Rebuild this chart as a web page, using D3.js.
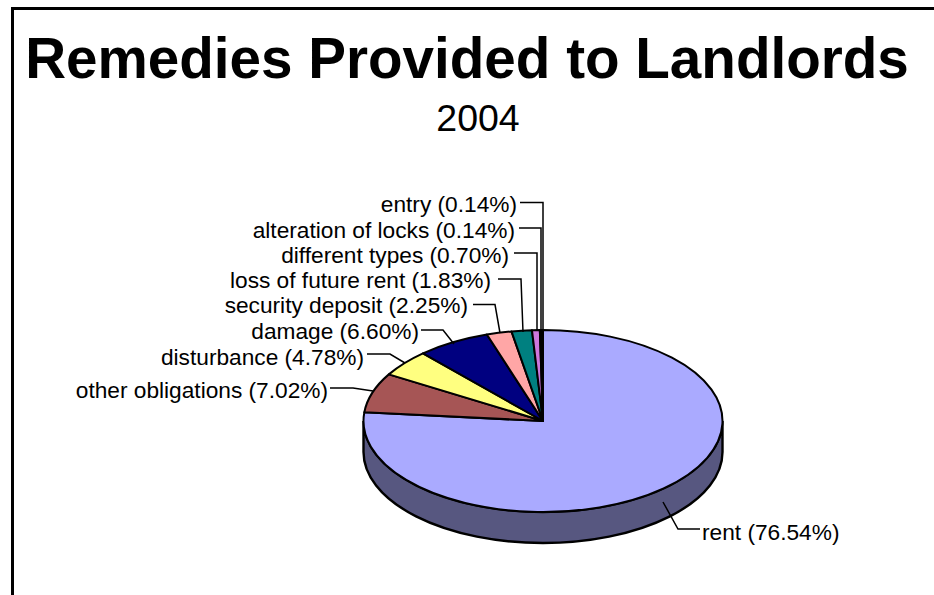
<!DOCTYPE html>
<html>
<head>
<meta charset="utf-8">
<script src="https://cdn.jsdelivr.net/npm/d3@7/dist/d3.min.js"></script>
<style>
html,body{margin:0;padding:0;background:#fff}
svg{display:block}
text{font-family:"Liberation Sans",Arial,sans-serif;fill:#000}
.slice,.wall{vector-effect:non-scaling-stroke}
</style>
</head>
<body>
<script>
// Slice order runs clockwise from twelve o'clock
const categories = ["rent","other obligations","disturbance","damage","security deposit","loss of future rent","different types","alteration of locks","entry"];
const shares = [76.54,7.02,4.78,6.60,2.25,1.83,0.70,0.14,0.14];
const sliceColors = ["#aaaaff","#a65555","#ffff80","#000080","#ffa6a6","#008080","#cc77dd","#cc77dd","#000000"];
const titleText = "Remedies Provided to Landlords";
const subtitleText = "2004";

const W = 934, H = 595;
const cx = 543, cy = 421, rx = 179.5, ry = 91, depth = 31;

// Label baseline and leader elbows per category
const labelLayout = [
  {textX:702, y:540, lineY:529, lineStart:700, elbowX:678, edge:[663,502], anchor:"start"},
  {textX:328, y:398, lineY:388, lineStart:330, elbowX:353, edge:[373,391]},
  {textX:364, y:365, lineY:354, lineStart:367, elbowX:390, edge:[405,363]},
  {textX:419, y:339, lineY:330, lineStart:421, elbowX:443, edge:[454,344]},
  {textX:468, y:313, lineY:304.5, lineStart:473, elbowX:495, edge:[500,333]},
  {textX:491, y:288, lineY:279, lineStart:498, elbowX:521, edge:[523,332]},
  {textX:509, y:263, lineY:253, lineStart:514, elbowX:537, edge:[537,331]},
  {textX:515, y:238, lineY:228, lineStart:519, elbowX:541, edge:[541,330]},
  {textX:517, y:212, lineY:202.5, lineStart:520, elbowX:543, edge:[543,330]}
];

const svg = d3.select("body").append("svg").attr("width", W).attr("height", H);

// Frame: top and left rules only
svg.append("path")
  .attr("d", d3.line()([[12.5, H],[12.5, 8.5],[W, 8.5]]))
  .attr("fill", "none").attr("stroke", "#000").attr("stroke-width", 3);

svg.append("text").attr("x", 467).attr("y", 78)
  .attr("text-anchor", "middle").attr("font-size", 56.6).attr("font-weight", "bold")
  .text(titleText);
svg.append("text").attr("x", 478).attr("y", 131)
  .attr("text-anchor", "middle").attr("font-size", 37.5)
  .text(subtitleText);

const pie = d3.pie().sort(null).value(d => d)(shares);
const arc = d3.arc().innerRadius(0).outerRadius(ry);

// The disc is a circle of radius ry stretched horizontally into an ellipse
const disc = svg.append("g")
  .attr("transform", `translate(${cx},${cy}) scale(${rx / ry},1)`);

const wall = d3.path();
wall.arc(0, 0, ry, 0, Math.PI);
wall.lineTo(-ry, depth);
wall.arc(0, depth, ry, Math.PI, 0, true);
wall.closePath();
disc.append("path").attr("class", "wall").attr("d", wall.toString())
  .attr("fill", "#575780").attr("stroke", "#000").attr("stroke-width", 2.4);

disc.selectAll("path.slice").data(pie).join("path")
  .attr("class", "slice")
  .attr("d", arc)
  .attr("fill", (d, i) => sliceColors[i])
  .attr("stroke", "#000").attr("stroke-width", 2).attr("stroke-linejoin", "round");

// Leader lines
svg.append("g").selectAll("path").data(labelLayout).join("path")
  .attr("d", d => d3.line()([[d.lineStart, d.lineY],[d.elbowX, d.lineY], d.edge]))
  .attr("fill", "none").attr("stroke", "#000").attr("stroke-width", 1.5);

// Labels
svg.append("g").selectAll("text").data(labelLayout).join("text")
  .attr("x", d => d.textX).attr("y", d => d.y)
  .attr("text-anchor", d => d.anchor || "end")
  .attr("font-size", 22.7)
  .text((d, i) => `${categories[i]} (${shares[i].toFixed(2)}%)`);
</script>
</body>
</html>
